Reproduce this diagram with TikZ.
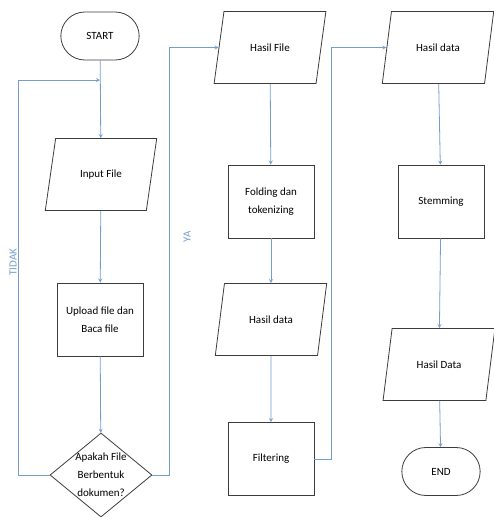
\documentclass[tikz,border=0pt]{standalone}
\usepackage{fontspec}
\setmainfont{Carlito}
\usetikzlibrary{shapes.geometric,shapes.misc}
\definecolor{flowblue}{RGB}{116,158,204}
\definecolor{boxline}{RGB}{60,60,60}
\begin{document}
\begin{tikzpicture}[>=stealth, x=1pt, y=1pt,
	every node/.style={font=\fontsize{11}{18}\selectfont, align=center},
	term/.style={rounded rectangle, draw=boxline, thick, minimum width=85, minimum height=48},
	io/.style={trapezium, trapezium left angle=71, trapezium right angle=109, trapezium stretches=true, draw=boxline, thick, minimum width=112, minimum height=72},
	proc/.style={rectangle, draw=boxline, thick, minimum width=86, minimum height=73},
	decide/.style={diamond, draw=boxline, thick, minimum width=102, minimum height=84, inner sep=0},
	flow/.style={draw=flowblue, thick},
	lbl/.style={text=flowblue, rotate=90}]
	\useasboundingbox (0,0) rectangle (493,-517);
	% kolom 1
	\node[term] (start) at (100,-36) {START};
	\node[io] (input) at (101,-174.5) {Input File};
	\node[proc] (upload) at (100,-319.5) {Upload file dan\\Baca file};
	\node[decide] (cek) at (101,-475) {};
	\node (cektext) at (cek) {Apakah File\\Berbentuk\\dokumen?};
	% kolom 2
	\node[io] (hasilfile) at (270,-47.5) {Hasil File};
	\node[proc] (folding) at (271,-201.5) {Folding dan\\tokenizing};
	\node[io] (hasildata1) at (271,-319.5) {Hasil data};
	\node[proc] (filter) at (271,-459) {Filtering};
	% kolom 3
	\node[io] (hasildata2) at (438,-47.5) {Hasil data};
	\node[proc] (stem) at (441,-201.5) {Stemming};
	\node[io] (hasildata3) at (439,-364.5) {Hasil Data};
	\node[term] (end) at (441,-471.5) {END};
	% titik bantu
	\coordinate (tidakL) at (18,-80);
	\coordinate (gabung) at (start.south |- tidakL);
	\coordinate (yaR) at (169,0);
	\coordinate (filtR) at (331,0);
	% garis
	\draw[flow,->] (start) -- (input);
	\draw[flow,->] (input) -- (upload);
	\draw[flow,->] (upload) -- (cek);
	\draw[flow,->] (cek.west) -| (tidakL) -- (gabung);
	\draw[flow,->] (cek.east) -| (yaR |- hasilfile.west) -- (hasilfile.west);
	\draw[flow,->] (hasilfile) -- (folding);
	\draw[flow,->] (folding) -- (hasildata1);
	\draw[flow,->] (hasildata1) -- (filter);
	\draw[flow,->] (filter.east) -| (filtR |- hasildata2.west) -- (hasildata2.west);
	\draw[flow,->] (hasildata2) -- (stem);
	\draw[flow,->] (stem) -- (hasildata3);
	\draw[flow,->] (hasildata3) -- (end);
	\node[lbl] (tidak) at (13,-262) {TIDAK};
	\node[lbl] (ya) at (187,-237) {YA};
\end{tikzpicture}
\end{document}
